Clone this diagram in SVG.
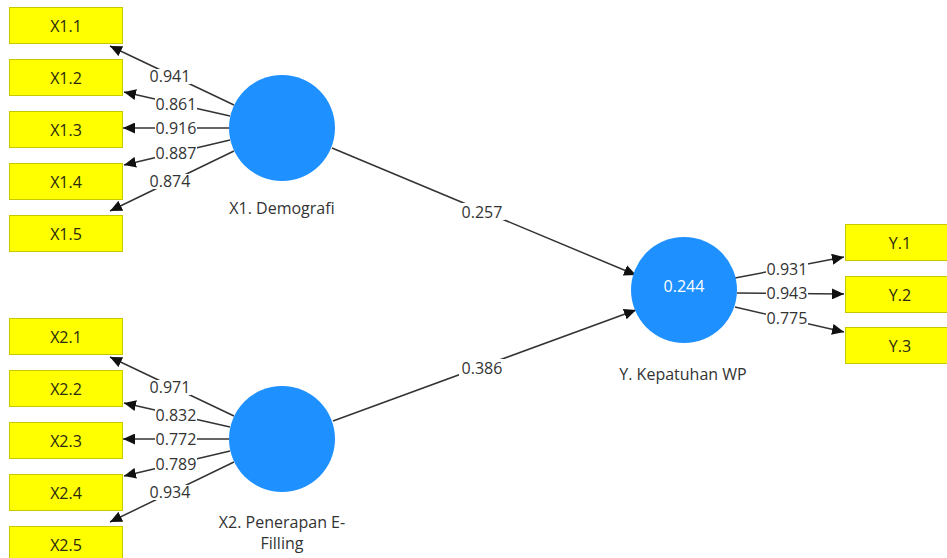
<svg xmlns="http://www.w3.org/2000/svg" width="947" height="558" viewBox="0 0 947 558">
<style>
.box{fill:#ffff00;stroke:#c8c800;stroke-width:1}
.lv{fill:#1e90ff}
.bt{font-family:"Open Sans","Liberation Sans",sans-serif;font-size:16px;fill:#2a2a10;text-anchor:middle}
.lt{font-family:"Open Sans","Liberation Sans",sans-serif;font-size:16px;fill:#333;text-anchor:middle}
.wt{font-family:"Open Sans","Liberation Sans",sans-serif;font-size:16px;fill:#ffffff;text-anchor:middle}
.ln{stroke:#333;stroke-width:1.5;fill:none;marker-end:url(#ah)}
.bg{fill:#ffffff}
</style>
<defs>
<marker id="ah" markerUnits="userSpaceOnUse" markerWidth="13" markerHeight="11" refX="12" refY="5.5" orient="auto">
<path d="M0,0 L12,5.5 L0,11 z" fill="#111"/>
</marker>
</defs>
<rect width="947" height="558" fill="#ffffff"/>

<g id="connectors">
<line class="ln" x1="234" y1="105" x2="110" y2="46"/>
<line class="ln" x1="230" y1="116" x2="124" y2="92"/>
<line class="ln" x1="229" y1="128" x2="123" y2="128"/>
<line class="ln" x1="230" y1="140" x2="124" y2="165"/>
<line class="ln" x1="234" y1="151" x2="110" y2="211"/>

<line class="ln" x1="234" y1="416" x2="110" y2="357"/>
<line class="ln" x1="230" y1="427" x2="124" y2="403"/>
<line class="ln" x1="229" y1="439" x2="123" y2="439"/>
<line class="ln" x1="230" y1="451" x2="124" y2="476"/>
<line class="ln" x1="234" y1="462" x2="110" y2="522"/>

<line class="ln" x1="332" y1="148" x2="636" y2="275"/>
<line class="ln" x1="333" y1="421" x2="636" y2="310"/>

<line class="ln" x1="735" y1="278" x2="844" y2="257"/>
<line class="ln" x1="737" y1="293" x2="844" y2="294"/>
<line class="ln" x1="735" y1="307" x2="844" y2="332"/>

<rect class="bg" x="149" y="69" width="42" height="15"/>
<text class="lt" x="170" y="82">0.941</text>
<rect class="bg" x="155" y="97" width="42" height="15"/>
<text class="lt" x="176" y="110">0.861</text>
<rect class="bg" x="155" y="121" width="42" height="15"/>
<text class="lt" x="176" y="134">0.916</text>
<rect class="bg" x="155" y="146" width="42" height="15"/>
<text class="lt" x="176" y="159">0.887</text>
<rect class="bg" x="149" y="174" width="42" height="15"/>
<text class="lt" x="170" y="187">0.874</text>

<rect class="bg" x="149" y="380" width="42" height="15"/>
<text class="lt" x="170" y="393">0.971</text>
<rect class="bg" x="155" y="408" width="42" height="15"/>
<text class="lt" x="176" y="421">0.832</text>
<rect class="bg" x="155" y="432" width="42" height="15"/>
<text class="lt" x="176" y="445">0.772</text>
<rect class="bg" x="155" y="457" width="42" height="15"/>
<text class="lt" x="176" y="470">0.789</text>
<rect class="bg" x="149" y="485" width="42" height="15"/>
<text class="lt" x="170" y="498">0.934</text>

<rect class="bg" x="459" y="203" width="46" height="17"/>
<text class="lt" x="482" y="218">0.257</text>
<rect class="bg" x="459" y="359" width="46" height="17"/>
<text class="lt" x="482" y="374">0.386</text>

<rect class="bg" x="766" y="262" width="42" height="15"/>
<text class="lt" x="787" y="275">0.931</text>
<rect class="bg" x="766" y="286" width="42" height="15"/>
<text class="lt" x="787" y="299">0.943</text>
<rect class="bg" x="766" y="311" width="42" height="15"/>
<text class="lt" x="787" y="324">0.775</text>
</g>

<g id="X1.1"><rect class="box" x="9.5" y="7.5" width="113" height="36"/><text class="bt" x="66" y="31.5">X1.1</text></g>
<g id="X1.2"><rect class="box" x="9.5" y="59.5" width="113" height="36"/><text class="bt" x="66" y="83.5">X1.2</text></g>
<g id="X1.3"><rect class="box" x="9.5" y="111.5" width="113" height="36"/><text class="bt" x="66" y="135.5">X1.3</text></g>
<g id="X1.4"><rect class="box" x="9.5" y="163.5" width="113" height="36"/><text class="bt" x="66" y="187.5">X1.4</text></g>
<g id="X1.5"><rect class="box" x="9.5" y="215.5" width="113" height="36"/><text class="bt" x="66" y="239.5">X1.5</text></g>

<g id="X2.1"><rect class="box" x="9.5" y="318.5" width="113" height="36"/><text class="bt" x="66" y="342.5">X2.1</text></g>
<g id="X2.2"><rect class="box" x="9.5" y="370.5" width="113" height="36"/><text class="bt" x="66" y="394.5">X2.2</text></g>
<g id="X2.3"><rect class="box" x="9.5" y="422.5" width="113" height="36"/><text class="bt" x="66" y="446.5">X2.3</text></g>
<g id="X2.4"><rect class="box" x="9.5" y="474.5" width="113" height="36"/><text class="bt" x="66" y="498.5">X2.4</text></g>
<g id="X2.5"><rect class="box" x="9.5" y="526.5" width="113" height="36"/><text class="bt" x="66" y="550.5">X2.5</text></g>

<g id="Y.1"><rect class="box" x="845.5" y="224.5" width="110" height="36"/><text class="bt" x="900" y="248.5">Y.1</text></g>
<g id="Y.2"><rect class="box" x="845.5" y="276.5" width="110" height="36"/><text class="bt" x="900" y="300.5">Y.2</text></g>
<g id="Y.3"><rect class="box" x="845.5" y="327.5" width="110" height="36"/><text class="bt" x="900" y="351.5">Y.3</text></g>

<g id="X1"><circle class="lv" cx="282" cy="128" r="53"/><text class="lt" x="282" y="214">X1. Demografi</text></g>
<g id="X2"><circle class="lv" cx="282" cy="439" r="53"/><text class="lt" x="282" y="528">X2. Penerapan E-</text><text class="lt" x="282" y="549">Filling</text></g>
<g id="Y"><circle class="lv" cx="684" cy="290" r="53"/><text class="wt" x="684" y="292">0.244</text><text class="lt" x="683" y="380">Y. Kepatuhan WP</text></g>
</svg>
